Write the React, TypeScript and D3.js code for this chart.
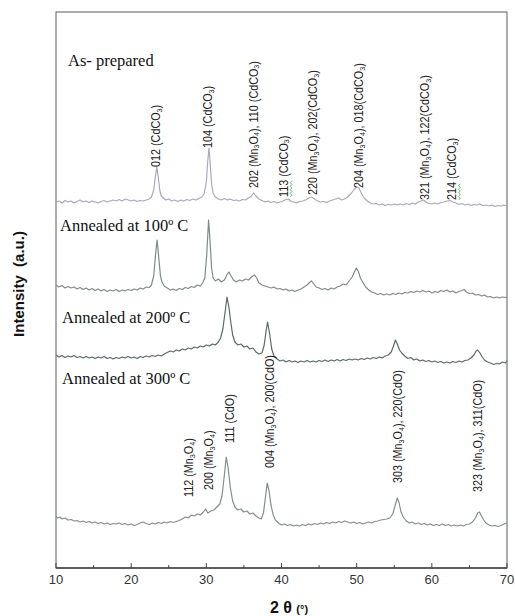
import React from "react";
import * as d3 from "d3";

const width = 515;
const height = 616;
const margin = { top: 12, right: 8, bottom: 48, left: 56 };

// 2θ (deg), intensity relative to each pattern's baseline (a.u.)
const asPrepared: [number, number][] = [
  [10.0, 0], [10.4, 1], [10.8, -1], [11.2, 1.5], [11.6, 0], [12.0, 1], [12.4, -1], [12.8, 0.5], [13.2, 2], [13.6, 0],
  [14.0, 1], [14.4, -0.5], [14.8, 1], [15.2, 0], [15.6, -1], [16.0, 0.5], [16.4, 1.5], [16.8, 0], [17.2, 1], [17.6, 2],
  [18.0, 1], [18.4, 2.5], [18.8, 1], [19.2, 3], [19.6, 2], [20.0, 1], [20.4, 2], [20.8, 0.5], [21.2, 1.5], [21.6, 1],
  [22.0, 2], [22.4, 3], [22.7, 5], [23.0, 12], [23.2, 24], [23.4, 35], [23.6, 25], [23.8, 12], [24.0, 6], [24.3, 4],
  [24.6, 2], [25.0, 3], [25.4, 1], [25.8, 2], [26.2, 0.5], [26.6, 2], [27.0, 1], [27.4, 2.5], [27.8, 1.5], [28.2, 3],
  [28.6, 2], [29.0, 3.5], [29.4, 5], [29.7, 8], [30.0, 20], [30.2, 42], [30.35, 54], [30.5, 40], [30.7, 18], [30.9, 9],
  [31.2, 5], [31.6, 3], [32.0, 2], [32.4, 3.5], [32.8, 2], [33.2, 3], [33.6, 1.5], [34.0, 2], [34.4, 1], [34.8, 2.5],
  [35.2, 2], [35.6, 4], [36.0, 6], [36.3, 9], [36.6, 6], [37.0, 3], [37.4, 1.5], [37.8, 0], [38.2, 1], [38.6, -0.5],
  [39.0, 0.5], [39.4, -1], [39.8, 0], [40.2, 1], [40.6, 2.5], [40.9, 3], [41.2, 1], [41.6, 0], [42.0, -1], [42.4, 0.5],
  [42.8, 1], [43.2, 2], [43.6, 4], [44.0, 5], [44.4, 3], [44.8, 1], [45.2, 0], [45.6, 0.5], [46.0, -0.5], [46.4, 1],
  [46.8, 2], [47.2, 3], [47.6, 4], [48.0, 2], [48.4, 3], [48.8, 5], [49.2, 8], [49.6, 12], [50.0, 15], [50.3, 14],
  [50.6, 9], [51.0, 4], [51.4, 1], [51.8, -1], [52.2, -2], [52.6, -1.5], [53.0, -3], [53.4, -2], [53.8, -3.5], [54.2, -2.5],
  [54.6, -3], [55.0, -2], [55.4, -3], [55.8, -2], [56.2, -3], [56.6, -1.5], [57.0, -2.5], [57.4, -1], [57.8, -2], [58.2, 0],
  [58.6, 1], [58.9, 2], [59.2, 0], [59.6, -1.5], [60.0, -2], [60.4, -1], [60.8, -2], [61.2, -0.5], [61.6, 0], [62.0, 1],
  [62.4, 1.5], [62.8, 0], [63.2, -1], [63.6, -2.5], [64.0, -1.5], [64.4, -3], [64.8, -2], [65.2, -3.5], [65.6, -2.5], [66.0, -3],
  [66.4, -2], [66.8, -3.5], [67.2, -3], [67.6, -4], [68.0, -3], [68.4, -4.5], [68.8, -3.5], [69.2, -4], [69.6, -3], [70.0, -4],
];

const annealed100: [number, number][] = [
  [10.0, 5], [10.4, 3], [10.8, 4.5], [11.2, 2], [11.6, 3.5], [12.0, 2], [12.4, 3], [12.8, 1], [13.2, 2.5], [13.6, 0.5],
  [14.0, 2], [14.4, 0], [14.8, 1.5], [15.2, -0.5], [15.6, 1], [16.0, -1], [16.4, 0.5], [16.8, -1.5], [17.2, 0], [17.6, -1],
  [18.0, 0.5], [18.4, -1.5], [18.8, 0], [19.2, -1], [19.6, 0.5], [20.0, -0.5], [20.4, 1], [20.8, 0], [21.2, 2], [21.6, 1],
  [22.0, 3], [22.4, 2.5], [22.7, 5], [23.0, 14], [23.2, 32], [23.45, 50], [23.7, 30], [23.9, 14], [24.1, 8], [24.4, 4],
  [24.8, 2], [25.2, 0], [25.6, 1], [26.0, -0.5], [26.4, 1.5], [26.8, 0.5], [27.2, 2.5], [27.6, 1.5], [28.0, 3.5], [28.4, 2.5],
  [28.8, 5], [29.2, 4], [29.5, 7], [29.8, 12], [30.05, 35], [30.3, 70], [30.5, 48], [30.7, 22], [30.9, 12], [31.2, 9],
  [31.6, 11], [32.0, 8], [32.4, 10], [32.8, 16], [33.0, 18], [33.3, 14], [33.6, 10], [34.0, 8], [34.4, 10], [34.8, 9],
  [35.2, 11], [35.6, 10], [36.0, 13], [36.4, 15], [36.7, 12], [37.0, 7], [37.4, 5], [37.8, 4], [38.2, 3], [38.6, 2],
  [39.0, 3], [39.4, 1], [39.8, 1.5], [40.2, 0], [40.6, 1], [41.0, -1], [41.4, 0], [41.8, -1.5], [42.2, 0], [42.6, 1],
  [43.0, 3], [43.4, 5], [43.8, 8], [44.0, 9], [44.3, 6], [44.6, 3], [45.0, 2], [45.4, 0.5], [45.8, 1.5], [46.2, 0],
  [46.6, 2], [47.0, 1], [47.4, 3], [47.8, 4], [48.2, 6], [48.6, 5], [49.0, 9], [49.4, 13], [49.7, 18], [49.95, 22],
  [50.2, 19], [50.5, 12], [50.8, 8], [51.2, 3], [51.6, 0], [52.0, -2], [52.4, -3], [52.8, -4.5], [53.2, -3.5], [53.6, -5],
  [54.0, -4], [54.4, -5], [54.8, -3.5], [55.2, -4.5], [55.6, -3], [56.0, -4], [56.4, -2.5], [56.8, -3], [57.2, -1.5], [57.6, -2.5],
  [58.0, -1], [58.4, -2], [58.8, -0.5], [59.2, -2], [59.6, -1], [60.0, -3], [60.4, -1.5], [60.8, -2.5], [61.2, -0.5], [61.6, -1.5],
  [62.0, 0], [62.4, -2], [62.8, -1], [63.2, -3], [63.6, -1.5], [64.0, -0.5], [64.3, 0.5], [64.6, -2], [65.0, -3.5], [65.4, -3],
  [65.8, -5], [66.2, -4.5], [66.6, -6], [67.0, -5], [67.4, -7], [67.8, -6.5], [68.2, -8], [68.6, -7], [69.0, -8], [69.4, -7],
  [69.8, -7.5], [70.0, -7],
];

const annealed200: [number, number][] = [
  [10.0, 2], [10.4, 0], [10.8, 1.5], [11.2, -0.5], [11.6, 1], [12.0, 0], [12.4, 1.5], [12.8, -0.5], [13.2, 0.5], [13.6, -1],
  [14.0, 0.5], [14.4, -1], [14.8, 0], [15.2, -1.5], [15.6, 0], [16.0, -1], [16.4, 0.5], [16.8, -1.5], [17.2, -0.5], [17.6, -2],
  [18.0, -0.5], [18.4, -1.5], [18.8, 0], [19.2, -1], [19.6, 0.5], [20.0, -1], [20.4, 0], [20.8, -1.5], [21.2, 0.5], [21.6, -0.5],
  [22.0, 1], [22.4, 0], [22.8, 1.5], [23.2, 0.5], [23.6, 2], [24.0, 1], [24.4, 3], [24.8, 4.5], [25.2, 6], [25.6, 5],
  [26.0, 7], [26.4, 6], [26.8, 8], [27.2, 7], [27.6, 9], [28.0, 8], [28.4, 10], [28.8, 9], [29.2, 11], [29.6, 10],
  [30.0, 12], [30.4, 11], [30.8, 13], [31.2, 12], [31.6, 15], [31.9, 19], [32.2, 28], [32.5, 45], [32.75, 60], [33.0, 50],
  [33.25, 35], [33.5, 22], [33.8, 15], [34.2, 12], [34.6, 13], [35.0, 10], [35.4, 11], [35.8, 8], [36.2, 9], [36.6, 5],
  [37.0, 3], [37.4, 4], [37.7, 12], [37.95, 26], [38.15, 35], [38.4, 24], [38.7, 8], [39.0, 1], [39.4, -2], [39.8, -4],
  [40.2, -3], [40.6, -5], [41.0, -3.5], [41.4, -5], [41.8, -4], [42.2, -5.5], [42.6, -4], [43.0, -5], [43.4, -3.5], [43.8, -5],
  [44.2, -4], [44.6, -5], [45.0, -3.5], [45.4, -4.5], [45.8, -3], [46.2, -4.5], [46.6, -3], [47.0, -4], [47.4, -2.5], [47.8, -4],
  [48.2, -2.5], [48.6, -3.5], [49.0, -2], [49.4, -3], [49.8, -2], [50.2, -3], [50.6, -1.5], [51.0, -2.5], [51.4, -1], [51.8, -2],
  [52.2, -0.5], [52.6, -1.5], [53.0, 0], [53.4, -1], [53.8, 1], [54.2, 2], [54.6, 5], [54.9, 11], [55.15, 17], [55.4, 13],
  [55.7, 7], [56.0, 4], [56.4, 1], [56.8, -1.5], [57.2, -0.5], [57.6, -3], [58.0, -2], [58.4, -4], [58.8, -3], [59.2, -4.5],
  [59.6, -3.5], [60.0, -5], [60.4, -4], [60.8, -5.5], [61.2, -4.5], [61.6, -6], [62.0, -5], [62.4, -6], [62.8, -4.5], [63.2, -5.5],
  [63.6, -4], [64.0, -5], [64.4, -3.5], [64.8, -3], [65.2, -1], [65.6, 2], [65.9, 6], [66.1, 7], [66.4, 4], [66.7, 0],
  [67.0, -3], [67.4, -5], [67.8, -6], [68.2, -7.5], [68.6, -6.5], [69.0, -7], [69.4, -5], [69.8, -6], [70.0, -4],
];

const annealed300: [number, number][] = [
  [10.0, 7], [10.2, 5], [10.5, 6], [10.8, 4], [11.2, 5], [11.6, 3], [12.0, 3.5], [12.4, 2], [12.8, 2.5], [13.2, 1],
  [13.6, 2], [14.0, 0.5], [14.4, 1.5], [14.8, 0], [15.2, 1], [15.6, -0.5], [16.0, 0.5], [16.4, -1], [16.8, 0], [17.2, -1.5],
  [17.6, -0.5], [18.0, -1], [18.4, 0], [18.8, -1.5], [19.2, -0.5], [19.6, -2], [20.0, -1], [20.4, -2.5], [20.8, -1.5], [21.2, 0],
  [21.6, 1], [22.0, -0.5], [22.4, -1.5], [22.8, 0], [23.2, -1], [23.6, 0.5], [24.0, -0.5], [24.4, 1], [24.8, 0], [25.2, 1.5],
  [25.6, 0.5], [26.0, 1.5], [26.4, 2.5], [26.8, 4], [27.2, 6], [27.6, 5], [28.0, 8], [28.4, 7], [28.8, 9], [29.2, 8],
  [29.6, 11], [29.9, 14], [30.2, 10], [30.6, 12], [31.0, 13], [31.4, 16], [31.8, 19], [32.1, 28], [32.4, 48], [32.65, 66],
  [32.9, 55], [33.2, 35], [33.5, 22], [33.8, 16], [34.2, 13], [34.6, 14], [35.0, 11], [35.4, 12], [35.8, 9], [36.2, 10],
  [36.6, 7], [37.0, 5], [37.3, 4], [37.6, 10], [37.85, 25], [38.1, 40], [38.35, 32], [38.6, 18], [38.9, 8], [39.2, 3],
  [39.6, 0], [40.0, -2], [40.4, -1], [40.8, -2.5], [41.2, -1.5], [41.6, -3], [42.0, -2], [42.4, -3], [42.8, -1.5], [43.2, -2.5],
  [43.6, -1], [44.0, -2], [44.4, -0.5], [44.8, -1.5], [45.2, 0], [45.6, -1], [46.0, 0.5], [46.4, -0.5], [46.8, 1], [47.2, 0],
  [47.6, 1.5], [48.0, 0.5], [48.4, 2], [48.8, 1], [49.2, 0], [49.6, 1], [50.0, -0.5], [50.4, 0.5], [50.8, -1], [51.2, 0],
  [51.6, 1], [52.0, 0], [52.4, 1.5], [52.8, 2], [53.2, 3], [53.6, 3.5], [54.0, 4], [54.4, 5], [54.8, 9], [55.1, 17],
  [55.4, 25], [55.65, 20], [55.9, 11], [56.2, 6], [56.6, 2], [57.0, 0], [57.4, 1], [57.8, -1], [58.2, 0], [58.6, -1.5],
  [59.0, -0.5], [59.4, -2], [59.8, -1], [60.2, -2.5], [60.6, -1.5], [61.0, -2.5], [61.4, -1], [61.8, -2.5], [62.2, -1.5], [62.6, -3],
  [63.0, -2], [63.4, -3], [63.8, -2], [64.2, -3], [64.6, -1.5], [65.0, -1], [65.4, 1], [65.8, 5], [66.1, 10], [66.35, 11],
  [66.6, 7], [66.9, 3], [67.2, 0], [67.6, -2], [68.0, -3], [68.4, -2.5], [68.8, -3.5], [69.2, -2.5], [69.6, -1], [70.0, 0],
];

// vertical stacking offsets of the four patterns (a.u.)
const patternNames = ["As- prepared", "Annealed at 100º C", "Annealed at 200º C", "Annealed at 300º C"];
const patternOffsets = [366, 278, 211, 45];
const patternLabelLevels = [502, 337, 245, 184];
const patternData = [asPrepared, annealed100, annealed200, annealed300];
const patternColors = ["#a9a9ba", "#808a8a", "#5c6a6a", "#858e8e"];

// peak labels: text segments (sub = subscript), 2θ, level (a.u.)
type Seg = { t: string; sub?: boolean };
const peakLabels: { segs: Seg[]; theta: number; level: number; squiggle?: boolean }[] = [
  { segs: [{ t: "012 (CdCO" }, { t: "3", sub: true }, { t: ")" }], theta: 23.3, level: 401 },
  { segs: [{ t: "104 (CdCO" }, { t: "3", sub: true }, { t: ")" }], theta: 30.2, level: 420 },
  { segs: [{ t: "202 (Mn" }, { t: "3", sub: true }, { t: "O" }, { t: "4", sub: true }, { t: "), 110 (CdCO" }, { t: "3", sub: true }, { t: ")" }], theta: 36.3, level: 380 },
  { segs: [{ t: "113 (CdCO" }, { t: "3", sub: true }, { t: ")" }], theta: 40.3, level: 371, squiggle: true },
  { segs: [{ t: "220 (Mn" }, { t: "3", sub: true }, { t: "O" }, { t: "4", sub: true }, { t: "), 202(CdCO" }, { t: "3", sub: true }, { t: ")" }], theta: 44.2, level: 373 },
  { segs: [{ t: "204 (Mn" }, { t: "3", sub: true }, { t: "O" }, { t: "4", sub: true }, { t: "), 018(CdCO" }, { t: "3", sub: true }, { t: ")" }], theta: 50.3, level: 380 },
  { segs: [{ t: "321 (Mn" }, { t: "3", sub: true }, { t: "O" }, { t: "4", sub: true }, { t: "), 122(CdCO" }, { t: "3", sub: true }, { t: ")" }], theta: 59.1, level: 368 },
  { segs: [{ t: "214 (CdCO" }, { t: "3", sub: true }, { t: ")" }], theta: 62.7, level: 368, squiggle: true },
  { segs: [{ t: "112 (Mn" }, { t: "3", sub: true }, { t: "O" }, { t: "4", sub: true }, { t: ")" }], theta: 27.7, level: 71 },
  { segs: [{ t: "200 (Mn" }, { t: "3", sub: true }, { t: "O" }, { t: "4", sub: true }, { t: ")" }], theta: 30.35, level: 78 },
  { segs: [{ t: "111 (CdO)" }], theta: 33.15, level: 125 },
  { segs: [{ t: "004 (Mn" }, { t: "3", sub: true }, { t: "O" }, { t: "4", sub: true }, { t: "), 200(CdO)" }], theta: 38.5, level: 100 },
  { segs: [{ t: "303 (Mn" }, { t: "3", sub: true }, { t: "O" }, { t: "4", sub: true }, { t: "), 220(CdO)" }], theta: 55.5, level: 85 },
  { segs: [{ t: "323 (Mn" }, { t: "3", sub: true }, { t: "O" }, { t: "4", sub: true }, { t: "), 311(CdO)" }], theta: 66.15, level: 76 },
];

const xTicks = [10, 20, 30, 40, 50, 60, 70];
const xMinorTicks = [15, 25, 35, 45, 55, 65];

const sans = "'Liberation Sans', Arial, sans-serif";
const serif = "'Liberation Serif', 'Times New Roman', serif";

export default function App() {
  const xScale = d3
    .scaleLinear()
    .domain([10, 70])
    .range([margin.left, width - margin.right]);
  const yScale = d3
    .scaleLinear()
    .domain([0, 556])
    .range([height - margin.bottom, margin.top]);

  const bottom = height - margin.bottom;

  return (
    <svg
      width={width}
      height={height}
      style={{ position: "absolute", left: 0, top: 0, background: "#fff" }}
    >
      {/* frame */}
      <rect
        x={margin.left}
        y={margin.top}
        width={width - margin.left - margin.right}
        height={bottom - margin.top}
        fill="none"
        stroke="#5a5a5a"
        strokeWidth={1}
      />

      {/* patterns */}
      {patternData.map((data, i) => {
        const line = d3
          .line<[number, number]>()
          .x((d) => xScale(d[0]))
          .y((d) => yScale(d[1] + patternOffsets[i]));
        return (
          <path
            key={i}
            d={line(data) || ""}
            fill="none"
            stroke={patternColors[i]}
            strokeWidth={1.2}
            strokeLinejoin="round"
          />
        );
      })}

      {/* pattern names */}
      {patternNames.map((name, i) => (
        <text
          key={name}
          x={i === 0 ? 68 : i === 1 ? 60 : 62}
          y={yScale(patternLabelLevels[i])}
          fontFamily={serif}
          fontSize={16.5}
          fill="#111"
        >
          {name}
        </text>
      ))}

      {/* peak labels */}
      {peakLabels.map((p, i) => (
        <g
          key={i}
          transform={`translate(${xScale(p.theta)},${yScale(p.level)}) rotate(-90) scale(0.9,1)`}
        >
          <text
            x={0}
            y={0}
            fontFamily={sans}
            fontSize={12}
            fill="#222"
            dominantBaseline="central"
          >
            {p.segs.map((s, j) =>
              s.sub ? (
                <tspan key={j} fontSize={8} dy={2.5}>
                  {s.t}
                </tspan>
              ) : (
                <tspan key={j} dy={j > 0 && p.segs[j - 1].sub ? -2.5 : 0}>
                  {s.t}
                </tspan>
              )
            )}
          </text>
          {p.squiggle && (
            <path
              d={d3.range(0, 10).map((k) => `${k === 0 ? "M" : "L"}${k * 2},${6.5 + (k % 2) * 1.6}`).join(" ")}
              fill="none"
              stroke="#3aa83a"
              strokeWidth={0.8}
            />
          )}
        </g>
      ))}

      {/* x axis ticks */}
      {xTicks.map((t) => (
        <g key={t}>
          <line x1={xScale(t)} x2={xScale(t)} y1={bottom} y2={bottom - 5} stroke="#444" />
          <text
            x={xScale(t)}
            y={584}
            textAnchor="middle"
            fontFamily={sans}
            fontSize={13}
            fill="#333"
          >
            {t}
          </text>
        </g>
      ))}
      {xMinorTicks.map((t) => (
        <line key={t} x1={xScale(t)} x2={xScale(t)} y1={bottom} y2={bottom - 3} stroke="#444" />
      ))}
      <line x1={margin.left} x2={width - margin.right} y1={bottom} y2={bottom} stroke="#444" strokeWidth={1.3} />

      {/* axis titles */}
      <text x={289} y={613} textAnchor="middle" fontFamily={sans} fontWeight="bold" fill="#111">
        <tspan fontSize={16}>2 θ </tspan>
        <tspan fontSize={11}>(°)</tspan>
      </text>
      <text
        transform="translate(24,284) rotate(-90)"
        textAnchor="middle"
        fontFamily={sans}
        fontWeight="bold"
        fontSize={15}
        fill="#111"
        style={{ whiteSpace: "pre" }}
      >
        {"Intensity  (a.u.)"}
      </text>
    </svg>
  );
}
